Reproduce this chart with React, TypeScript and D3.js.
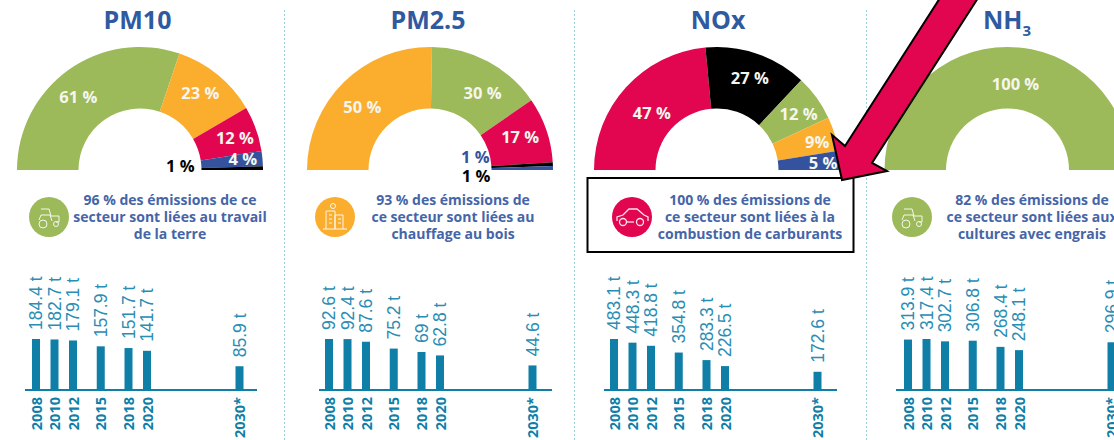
import * as d3 from 'd3';

const WIDTH = 1114;
const HEIGHT = 440;

const GREEN = '#9cba5a';
const ORANGE = '#fbae2e';
const RED = '#e1064f';
const BLUE = '#35529f';
const BLACK = '#000000';
const TEAL = '#0f7fa8';
const TITLE = '#2f5aa0';
const CAPTION = '#4565a8';

const years = [2008, 2010, 2012, 2015, 2018, 2020, 2030];
const yearLabels = ['2008', '2010', '2012', '2015', '2018', '2020', '2030*'];

// emissions (tonnes) by year
const pm10Values = [184.4, 182.7, 179.1, 157.9, 151.7, 141.7, 85.9];
const pm25Values = [92.6, 92.4, 87.6, 75.2, 69, 62.8, 44.6];
const noxValues = [483.1, 448.3, 418.8, 354.8, 283.3, 226.5, 172.6];
const nh3Values = [313.9, 317.4, 302.7, 306.8, 268.4, 248.1, 296.9];

// sector shares (%)
const pm10Shares = [61, 23, 12, 4, 1];
const pm25Shares = [50, 30, 17, 1, 1];
const noxShares = [47, 27, 12, 9, 5];
const nh3Shares = [100];

const pm10Colors = [GREEN, ORANGE, RED, BLUE, BLACK];
const pm25Colors = [ORANGE, GREEN, RED, BLACK, BLUE];
const noxColors = [RED, BLACK, GREEN, ORANGE, BLUE];
const nh3Colors = [GREEN];

const pm10Labels = ['61 %', '23 %', '12 %', '4 %', '1 %'];
const pm25Labels = ['50 %', '30 %', '17 %', '1 %', '1 %'];
const noxLabels = ['47 %', '27 %', '12 %', '9%', '5 %'];
const nh3Labels = ['100 %'];

const pm10Caption = ['96 % des émissions de ce', 'secteur sont liées au travail', 'de la terre'];
const pm25Caption = ['93 % des émissions de', 'ce secteur sont liées au', 'chauffage au bois'];
const noxCaption = ['100 % des émissions de', 'ce secteur sont liées à la', 'combustion de carburants'];
const nh3Caption = ['82 % des émissions de', 'ce secteur sont liées aux', 'cultures avec engrais'];

// label shifts from the arc centroid, the small slices have theirs outside
const pm10Nudges = [[-8, 2], [2, -5], [8, -1], [11, -2], [-52, -3]];
const pm25Nudges = [[-3, 3], [9, 4], [3, -3], [-46, 10], [-47, -11]];
const noxNudges = [[3, 5], [3, -5], [7, -2], [12, -1], [14, 0]];
const nh3Nudges = [[8, 6]];

const panels = [
  { title: 'PM10', sub: '', titleX: 137.5, cx: 140, barX: 36, axis: [25, 257], captionX: 170, iconX: 49, icon: 'tractor',
    shares: pm10Shares, colors: pm10Colors, labels: pm10Labels, nudges: pm10Nudges, caption: pm10Caption, values: pm10Values },
  { title: 'PM2.5', sub: '', titleX: 428, cx: 430, barX: 329, axis: [319, 552], captionX: 453, iconX: 335, icon: 'building',
    shares: pm25Shares, colors: pm25Colors, labels: pm25Labels, nudges: pm25Nudges, caption: pm25Caption, values: pm25Values },
  { title: 'NOx', sub: '', titleX: 718, cx: 717, barX: 614, axis: [604, 837], captionX: 750, iconX: 632, icon: 'car',
    shares: noxShares, colors: noxColors, labels: noxLabels, nudges: noxNudges, caption: noxCaption, values: noxValues },
  { title: 'NH', sub: '3', titleX: 1007, cx: 1007.5, barX: 908, axis: [896, 1135], captionX: 1032, iconX: 912, icon: 'tractor',
    shares: nh3Shares, colors: nh3Colors, labels: nh3Labels, nudges: nh3Nudges, caption: nh3Caption, values: nh3Values },
];

const separators = [284.5, 574.5, 866.5];
const arrowPoints = [[842, 180], [832, 135], [845, 146], [940, -2], [978, -2], [872, 163], [887, 171]];

const OUTER = 123;
const INNER = 61.5;
const ARC_Y = 170;
const BASE_Y = 390;
const BAR_MAX = 51;
const FONT = '"Open Sans", sans-serif';

const pie = d3.pie<number>().sort(null).startAngle(-Math.PI / 2).endAngle(Math.PI / 2).padAngle(0);
const arc = d3.arc<d3.PieArcDatum<number>>().innerRadius(INNER).outerRadius(OUTER);

function Icon({ kind, x, color }: { kind: string; x: number; color: string }) {
  const stroke = { fill: 'none', stroke: '#fff', strokeWidth: 1, opacity: 0.9 };
  return (
    <g transform={`translate(${x},217)`}>
      <circle r={20} fill={color} />
      {kind === 'tractor' && (
        <g {...stroke}>
          <path d="M-8,-8 h8 l2,7 h8 v6 h-3" />
          <path d="M-10,3 l2,-5 h9 l2,6" />
          <circle cx={-6} cy={7} r={4} />
          <circle cx={7} cy={7} r={2.5} />
        </g>
      )}
      {kind === 'building' && (
        <g {...stroke}>
          <path d="M-9,12 v-18 h9 v18 M0,12 v-14 h8 v14 M-12,12 h24" />
          <path d="M-6,-2 h3 M-6,2 h3 M-6,6 h3 M3,2 h3 M3,6 h3" />
          <circle cx={-2} cy={-11} r={2.5} />
        </g>
      )}
      {kind === 'car' && (
        <g {...stroke} strokeWidth={1.3}>
          <path d="M-15,4 v-4 l6,-2 l6,-6 h8 l7,6 l4,2 v4" />
          <path d="M-5,5 h7" />
          <circle cx={-9} cy={5} r={3.5} />
          <circle cx={8} cy={5} r={3.5} />
        </g>
      )}
    </g>
  );
}

function Panel({ panel }: { panel: (typeof panels)[number] }) {
  const slices = pie(panel.shares);
  const x = d3.scaleLinear().domain([2008, 2020]).range([panel.barX, panel.barX + 111]);
  const y = d3.scaleLinear().domain([0, d3.max(panel.values) as number]).range([BASE_Y, BASE_Y - BAR_MAX]);

  return (
    <g>
      <text x={panel.titleX} y={29} textAnchor="middle" fontFamily={FONT} fontWeight={700} fontSize={25} fill={TITLE}>
        {panel.title}
        {panel.sub && <tspan fontSize={15} dy={7}>{panel.sub}</tspan>}
      </text>

      <g transform={`translate(${panel.cx},${ARC_Y})`}>
        {slices.map((s, i) => (
          <path key={i} d={arc(s) as string} fill={panel.colors[i]} />
        ))}
        {slices.map((s, i) => {
          const [cx, cy] = arc.centroid(s);
          const [dx, dy] = panel.nudges[i];
          const outside = dx < -40;
          return (
            <text
              key={i}
              x={cx + dx}
              y={cy + dy}
              dy="0.36em"
              textAnchor="middle"
              fontFamily={FONT}
              fontWeight={700}
              fontSize={16.5}
              fill={outside ? panel.colors[i] : '#f6f6ee'}
            >
              {panel.labels[i]}
            </text>
          );
        })}
      </g>

      <Icon kind={panel.icon} x={panel.iconX} color={panel.colors[0]} />
      {panel.caption.map((line, i) => (
        <text
          key={i}
          x={panel.captionX}
          y={205 + i * 17}
          textAnchor="middle"
          fontFamily={FONT}
          fontWeight={700}
          fontSize={14}
          fill={CAPTION}
        >
          {line}
        </text>
      ))}

      <line x1={panel.axis[0]} x2={panel.axis[1]} y1={BASE_Y} y2={BASE_Y} stroke={TEAL} strokeWidth={2} />
      {years.map((year, i) => {
        const v = panel.values[i];
        return (
          <g key={year}>
            <rect x={x(year) - 4} y={y(v)} width={8} height={BASE_Y - y(v)} fill={TEAL} />
            <text
              transform={`translate(${x(year) + 6},${y(v) - 9}) rotate(-90)`}
              fontFamily='"Liberation Sans", Arial, sans-serif'
              fontSize={17.5}
              fill="#2a8db3"
            >
              {`${v} t`}
            </text>
            <text
              transform={`translate(${x(year) + 5.5},397) rotate(-90)`}
              textAnchor="end"
              fontFamily={FONT}
              fontWeight={700}
              fontSize={14.5}
              fill={TEAL}
            >
              {yearLabels[i]}
            </text>
          </g>
        );
      })}
    </g>
  );
}

export default function App() {
  return (
    <svg width={WIDTH} height={HEIGHT} style={{ position: 'absolute', left: 0, top: 0, background: '#fff' }}>
      {separators.map((sx) => (
        <line key={sx} x1={sx} x2={sx} y1={10} y2={HEIGHT} stroke="#9ccfd6" strokeWidth={1} strokeDasharray="2 2" />
      ))}
      {panels.map((p) => (
        <Panel key={p.title} panel={p} />
      ))}
      <rect x={587.5} y={178} width={266} height={74} fill="none" stroke="#000" strokeWidth={2} />
      <polygon points={arrowPoints.map((p) => p.join(',')).join(' ')} fill={RED} stroke="#000" strokeWidth={2} />
    </svg>
  );
}
